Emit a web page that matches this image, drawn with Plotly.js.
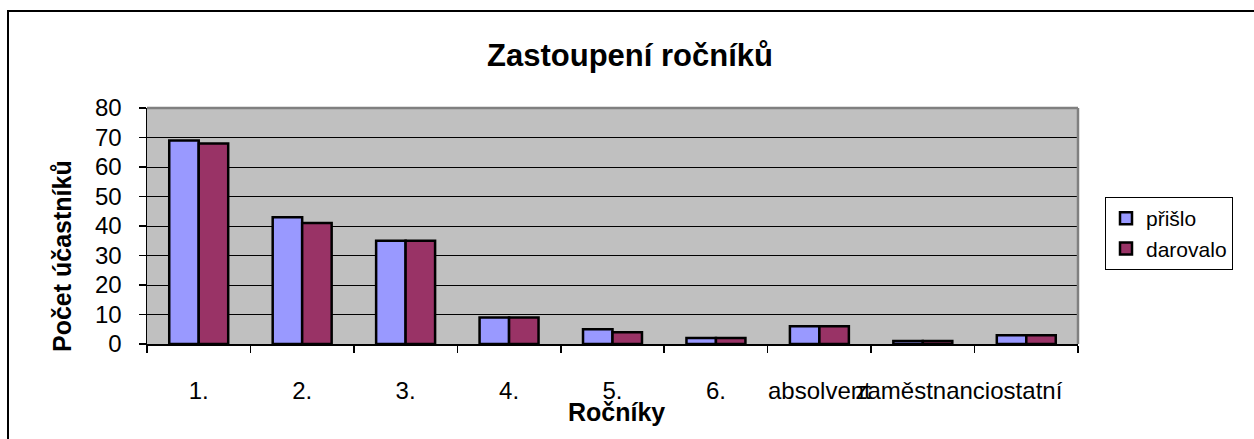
<!DOCTYPE html>
<html>
<head>
<meta charset="utf-8">
<script src="https://cdn.plot.ly/plotly-3.0.1.min.js"></script>
<style>html,body{margin:0;padding:0;background:#fff;}#chart{width:1254px;height:439px;}</style>
</head>
<body>
<div id="chart"></div>
<script>
const categories = ["1.", "2.", "3.", "4.", "5.", "6.", "absolvent", "zaměstnanci", "ostatní"];
const prislo = [69, 43, 35, 9, 5, 2, 6, 1, 3];
const darovalo = [68, 41, 35, 9, 4, 2, 6, 1, 3];
const seriesNames = ["přišlo", "darovalo"];
const yTicks = [0, 10, 20, 30, 40, 50, 60, 70, 80];

const FONT = "Liberation Sans, Arial, sans-serif";
const L = 147, R = 1078, T = 108, B = 344, W = 1254, H = 439;
const px = x => (x - L) / (R - L);
const py = y => (B - y) / (B - T);

const traces = [
  {type: "bar", name: seriesNames[0], x: categories, y: prislo,
   marker: {color: "#9999FF", line: {color: "#000000", width: 2.5}}},
  {type: "bar", name: seriesNames[1], x: categories, y: darovalo,
   marker: {color: "#993366", line: {color: "#000000", width: 2.5}}}
];

const layout = {
  width: W, height: H,
  margin: {l: L, r: W - R, t: T, b: H - B, pad: 0},
  paper_bgcolor: "#ffffff",
  plot_bgcolor: "#C0C0C0",
  font: {family: FONT, color: "#000000", size: 24},
  barmode: "group",
  bargap: 0.43,
  bargroupgap: 0,
  showlegend: true,
  title: {text: "<b>Zastoupení ročníků</b>", font: {family: FONT, size: 31, color: "#000"},
          x: px(630), xanchor: "center", xref: "paper", y: 1 - 55 / H, yanchor: "middle"},
  xaxis: {
    type: "category", tickangle: 0, showgrid: false, zeroline: false,
    showline: true, linecolor: "#000", linewidth: 1.5,
    ticks: "outside", ticklen: 7, tickwidth: 1.5, tickcolor: "#000",
    tickson: "boundaries", ticklabelstandoff: 25,
    tickfont: {family: FONT, size: 24, color: "#000"},
    fixedrange: true
  },
  yaxis: {
    range: [0, 80], tickvals: yTicks, ticktext: yTicks.map(String),
    showgrid: true, gridcolor: "#000000", gridwidth: 1, zeroline: false,
    showline: true, linecolor: "#000", linewidth: 1.5,
    ticks: "outside", ticklen: 7, tickwidth: 1.5, tickcolor: "#000",
    ticklabelstandoff: 12,
    tickfont: {family: FONT, size: 24, color: "#000"},
    fixedrange: true
  },
  legend: {
    x: px(1105), xanchor: "left", y: py(197), yanchor: "top",
    bgcolor: "#ffffff", bordercolor: "#000000", borderwidth: 1,
    font: {family: FONT, size: 21, color: "#000"},
    itemwidth: 30, tracegroupgap: 0
  },
  annotations: [
    {text: "<b>Ročníky</b>", xref: "paper", yref: "paper", x: px(616), y: py(412),
     xanchor: "center", yanchor: "middle", showarrow: false, font: {family: FONT, size: 25, color: "#000"}},
    {text: "<b>Počet účastníků</b>", xref: "paper", yref: "paper", x: px(62), y: py(256),
     xanchor: "center", yanchor: "middle", textangle: -90, showarrow: false, font: {family: FONT, size: 25, color: "#000"}},
    {text: "<b>p</b>", xref: "paper", yref: "paper", x: px(297), y: py(-19),
     xanchor: "center", yanchor: "middle", showarrow: false, font: {family: "Liberation Serif, serif", size: 28, color: "#365F91"}}
  ],
  shapes: [
    {type: "rect", xref: "paper", yref: "paper", x0: px(8), x1: px(1270), y0: py(11), y1: py(460),
     line: {color: "#000", width: 2}, fillcolor: "rgba(0,0,0,0)"},
    {type: "line", xref: "paper", yref: "paper", x0: 0, x1: 1, y0: 1, y1: 1, line: {color: "#808080", width: 2.5}},
    {type: "line", xref: "paper", yref: "paper", x0: 1, x1: 1, y0: 0, y1: 1, line: {color: "#808080", width: 2.5}}
  ]
};

Plotly.newPlot("chart", traces, layout, {displayModeBar: false, staticPlot: true});
</script>
</body>
</html>
